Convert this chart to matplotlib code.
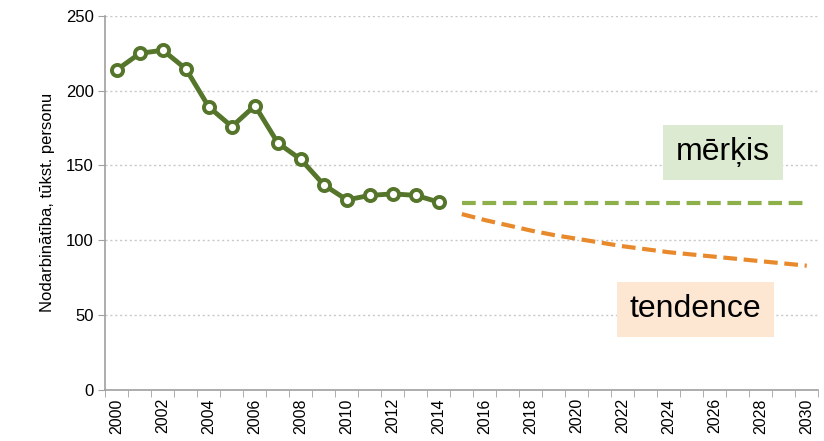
import matplotlib.pyplot as plt
import numpy as np

plt.rcParams['font.family'] = ['Liberation Sans', 'DejaVu Sans']

# actual employment data, thousand persons
years = list(range(2000, 2015))
employed = [214, 225, 227, 214.5, 189, 176, 190, 165, 154, 137, 127, 130, 131, 130, 125.5]

# target and trend projection
proj_years = list(range(2015, 2031))
target = [125] * len(proj_years)
trend = [117.5, 113.5, 110, 106.5, 103.5, 101, 98.5, 96, 94, 92, 90.5, 89, 87.5, 86, 84.5, 83]

fig = plt.figure(figsize=(8.24, 4.41), dpi=100)
ax = fig.add_axes([0.128, 0.116, 0.865, 0.848])

ax.plot(years, employed, color='#55752a', lw=3.5, marker='o', ms=8,
        mfc='white', mec='#55752a', mew=2.8, zorder=4)
ax.plot(proj_years, target, color='#8db04a', lw=3, ls=(0, (3.3, 1.6)), zorder=3)
ax.plot(proj_years, trend, color='#e8892c', lw=3, ls=(0, (3.3, 1.6)), zorder=3)

ax.set_xlim(1999.5, 2030.5)
ax.set_ylim(0, 250)
ax.set_yticks([0, 50, 100, 150, 200, 250])
ax.set_xticks(np.arange(2000, 2031, 2))
ax.set_xticks(np.arange(1999.5, 2031, 1), minor=True)
ax.tick_params(axis='x', which='major', length=0, labelrotation=90, labelsize=11.5, pad=6)
ax.tick_params(axis='x', which='minor', length=5, color='#a0a0a0', direction='out')
ax.tick_params(axis='y', length=5, color='#a0a0a0', labelsize=12)

ax.grid(axis='y', ls=(0, (1.5, 2)), color='#c8c8c8', lw=1)
for s in ['top', 'right']:
    ax.spines[s].set_visible(False)
for s in ['left', 'bottom']:
    ax.spines[s].set_color('#a0a0a0')
    ax.spines[s].set_linewidth(1.2)

ax.set_ylabel('Nodarbinātība, tūkst. personu', fontsize=12, labelpad=8)

ax.text(2026.37, 158.8, 'mērķis', fontsize=23, ha='center', va='center', zorder=5,
        bbox=dict(boxstyle='square,pad=0.4', fc='#dbead0', ec='none'))
ax.text(2025.15, 53.8, 'tendence', fontsize=23, ha='center', va='center', zorder=5,
        bbox=dict(boxstyle='square,pad=0.4', fc='#fde6d2', ec='none'))

plt.savefig('out.png', dpi=100)
